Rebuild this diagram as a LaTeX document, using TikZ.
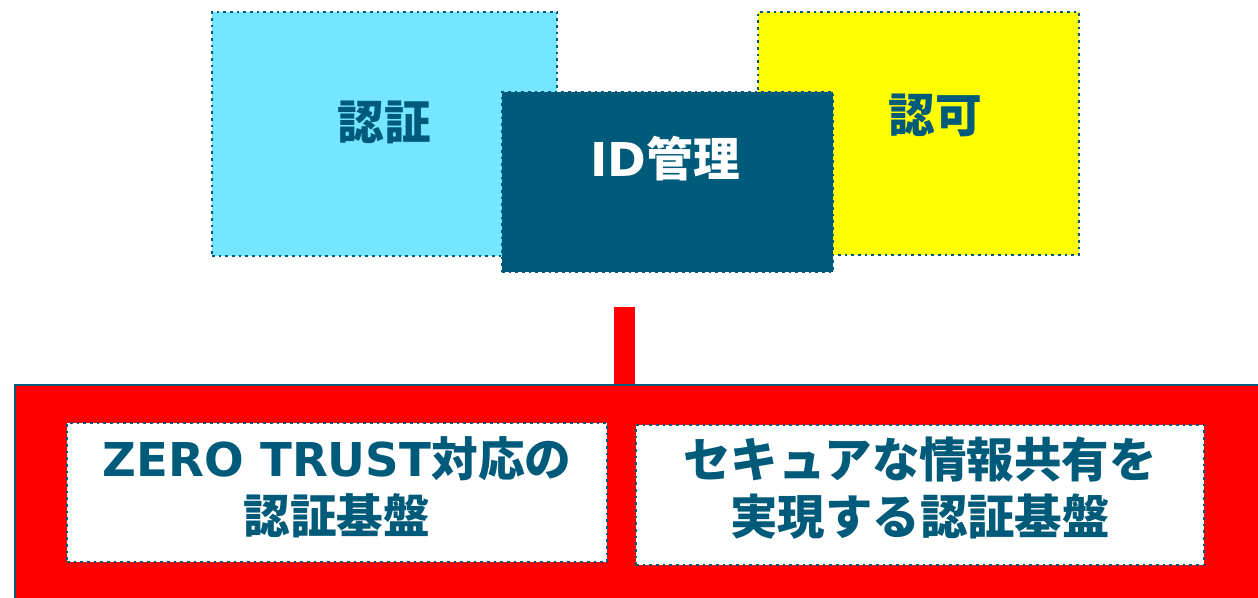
\documentclass[tikz,border=0pt]{standalone}
\usepackage{fontspec}
\newfontfamily\jp{Noto Sans CJK JP}
\newfontfamily\lat{DejaVu Sans}
\definecolor{teal}{RGB}{0,90,122}
\definecolor{skyblue}{RGB}{117,230,255}
\definecolor{brightyellow}{RGB}{255,255,0}
\definecolor{brightred}{RGB}{255,0,0}
\tikzset{
  dotbox/.style={draw=teal, line width=1.9pt, dash pattern=on 1.9pt off 3.1pt, inner sep=0pt, outer sep=0pt},
  label/.style={font=\jp\bfseries\fontsize{35pt}{43pt}\selectfont, text=teal, align=center, inner sep=0pt},
}
\begin{document}
\begin{tikzpicture}[x=0.75pt,y=-0.75pt]
\useasboundingbox (0,0) rectangle (1258,597);
\clip (0,0) rectangle (1258,597);
% top boxes
\node[dotbox, fill=skyblue, minimum width=258.75pt, minimum height=183pt] (authbox) at (384.5,134) {};
\node[dotbox, fill=brightyellow, minimum width=240.75pt, minimum height=182.25pt] (authzbox) at (918.5,133.5) {};
\node[dotbox, fill=teal, minimum width=248.25pt, minimum height=135pt] (idbox) at (667.5,182) {};
\node[label] (authtext) at (384,122) {認証};
\node[label] (authztext) at (935,115) {認可};
\node[label, text=white] (idtext) at (665,159) {{\lat\bfseries ID}管理};
% base
\node[draw=teal, line width=1.5pt, fill=brightred, minimum width=941.25pt, minimum height=168.75pt, inner sep=0pt, outer sep=0pt] (base) at (642.5,497.5) {};
\coordinate (linktop) at (624.5,307);
\coordinate (linkbot) at (624.5,384);
\draw[brightred, line width=15.75pt] (linktop) -- (linkbot);
\node[dotbox, fill=white, minimum width=405pt, minimum height=104.25pt] (leftbox) at (337,492.5) {};
\node[dotbox, fill=white, minimum width=426pt, minimum height=105pt] (rightbox) at (920,495) {};
\node[label] (lefttext) at (337,487) {{\lat\bfseries ZERO TRUST}対応の\\認証基盤};
\node[label, font=\jp\bfseries\fontsize{35.6pt}{43pt}\selectfont] (righttext) at (920,488) {セキュアな情報共有を\\実現する認証基盤};
\end{tikzpicture}
\end{document}
